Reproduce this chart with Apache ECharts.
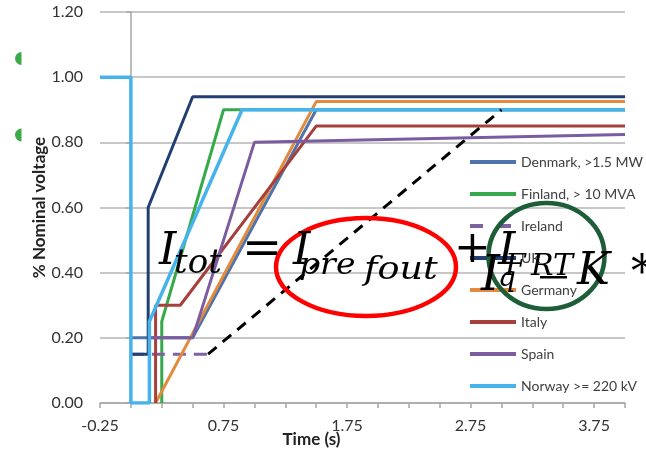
<!DOCTYPE html>
<html><head><meta charset="utf-8">
<script src="https://cdn.jsdelivr.net/npm/echarts@6/dist/echarts.min.js"></script>
<style>html,body{margin:0;padding:0;background:#fff}#c{width:646px;height:450px}</style>
</head><body><div id="c"></div>
<script>
// ---- data ----
const seriesNames = ['Denmark, >1.5 MW','Finland, > 10 MVA','Ireland','UK','Germany','Italy','Spain','Norway >= 220 kV'];
const denmarkT = [0, 0.5, 1.5, 4.0];
const denmarkV = [0.2, 0.2, 0.9, 0.9];
const finlandT = [0.25, 0.25, 0.75, 4.0];
const finlandV = [0, 0.25, 0.9, 0.9];
const irelandT = [0, 0.625];
const irelandV = [0.15, 0.15];
const irelandExtT = [0.625, 3.0];
const irelandExtV = [0.15, 0.9];
const ukT = [0, 0.14, 0.14, 0.5, 4.0];
const ukV = [0.15, 0.15, 0.6, 0.94, 0.94];
const germanyT = [0.2, 1.5, 4.0];
const germanyV = [0, 0.925, 0.925];
const italyT = [0.2, 0.2, 0.4, 1.5, 4.0];
const italyV = [0, 0.3, 0.3, 0.85, 0.85];
const spainT = [0.15, 0.5, 1.0, 4.0];
const spainV = [0.2, 0.2, 0.8, 0.824];
const norwayT = [-0.25, 0, 0, 0.15, 0.15, 0.9, 4.0];
const norwayV = [1.0, 1.0, 0, 0, 0.25, 0.9, 0.9];
const xTickLabels = ['-0.25', '0.75', '1.75', '2.75', '3.75'];
const yTickLabels = ['0.00', '0.20', '0.40', '0.60', '0.80', '1.00', '1.20'];

const zip = (t, v) => t.map((x, i) => [x, v[i]]);
const font = 'Lato, "Open Sans", sans-serif';
const colors = ['#4E74AE', '#36AA4A', '#7E62A2', '#223F72', '#E38A3D', '#A5403D', '#7B5CA0', '#46B3EC'];
function ln(name, t, v, color, opts) {
  return Object.assign({
    name: name, type: 'line', data: zip(t, v), symbol: 'none',
    lineStyle: { color: color, width: 3 }, itemStyle: { color: color },
    animation: false, silent: true
  }, opts || {});
}
const series = [
  ln(seriesNames[0], denmarkT, denmarkV, colors[0]),
  ln(seriesNames[1], finlandT, finlandV, colors[1]),
  ln(seriesNames[2], irelandT, irelandV, colors[2], { lineStyle: { color: colors[2], width: 3, type: [13, 8] } }),
  ln(seriesNames[3], ukT, ukV, colors[3]),
  ln(seriesNames[4], germanyT, germanyV, colors[4]),
  ln(seriesNames[5], italyT, italyV, colors[5]),
  ln(seriesNames[6], spainT, spainV, colors[6]),
  ln(seriesNames[7], norwayT, norwayV, colors[7], { lineStyle: { color: colors[7], width: 3.5 } }),
  ln('Ireland (ramp)', irelandExtT, irelandExtV, '#000000', { lineStyle: { color: '#000', width: 3, type: [11, 8] } })
];

const solidIcon = 'path://M0,0H46V4H0Z';
const dashIcon = 'path://M0,0H13V4H0Z M28,0H41V4H28Z M46,0H46.01V4H46Z';
const legendData = seriesNames.map((n, i) => ({ name: n, icon: i === 2 ? dashIcon : solidIcon }));

function tx(text, x, y, size, italic, sx) {
  return { type: 'text', z: 100, silent: true, x: x, y: y, scaleX: sx || 1, style: {
    text: text, x: 0, y: 0, fill: '#000',
    font: (italic === false ? '' : 'italic ') + size + 'px "DejaVu Serif", serif',
    textAlign: 'left', textVerticalAlign: 'middle' } };
}

const chart = echarts.init(document.getElementById('c'), null, { renderer: 'canvas' });
chart.setOption({
  animation: false,
  grid: { left: 100, right: 21, top: 12, bottom: 47, containLabel: false, outerBoundsMode: 'none' },
  legend: {
    data: legendData, orient: 'vertical', left: 470, top: 155, padding: 0,
    itemWidth: 46, itemHeight: 4, itemGap: 18,
    textStyle: { fontFamily: font, fontSize: 14, color: '#404040', lineHeight: 14 },
    selectedMode: false
  },
  xAxis: {
    type: 'value', min: -0.25, max: 4.0, interval: 0.25,
    name: 'Time (s)', nameLocation: 'middle', nameGap: 28, nameMoveOverlap: false,
    nameTextStyle: { fontFamily: font, fontSize: 17, fontWeight: 'bold', color: '#222', padding: [0, 102, 0, 0] },
    axisLine: { lineStyle: { color: '#A6A6A6', width: 1.5 } },
    axisTick: { show: true, length: 5, lineStyle: { color: '#A6A6A6', width: 1.5 } },
    axisLabel: { margin: 15, fontFamily: font, fontSize: 16, color: '#333',
      formatter: function (v, i) { return (i % 4 === 0) ? xTickLabels[i / 4] : ''; } },
    splitLine: { show: false }
  },
  yAxis: {
    type: 'value', min: 0, max: 1.2, interval: 0.2,
    name: '% Nominal voltage', nameLocation: 'middle', nameGap: 52, nameMoveOverlap: false,
    nameTextStyle: { fontFamily: font, fontSize: 17, fontWeight: 'bold', color: '#222' },
    axisLine: { show: true, lineStyle: { color: '#A6A6A6', width: 1.5 } },
    axisTick: { show: true, length: 5, lineStyle: { color: '#A6A6A6', width: 1.5 } },
    axisLabel: { margin: 17, fontFamily: font, fontSize: 16, color: '#333',
      formatter: function (v, i) { return yTickLabels[i]; } },
    splitLine: { show: true, lineStyle: { color: '#B4B4B4', width: 1.5 } }
  },
  series: series,
  graphic: [
    { type: 'sector', silent: true, shape: { cx: 21.5, cy: 58.5, r: 6.5, startAngle: Math.PI / 2, endAngle: Math.PI * 1.5 }, style: { fill: '#3BAA48' } },
    { type: 'sector', silent: true, shape: { cx: 21.5, cy: 135, r: 6.5, startAngle: Math.PI / 2, endAngle: Math.PI * 1.5 }, style: { fill: '#3BAA48' } },
    { type: 'ellipse', z: 100, silent: true, shape: { cx: 366, cy: 267, rx: 90, ry: 49 }, style: { fill: 'none', stroke: '#FF0000', lineWidth: 4.5 } },
    { type: 'ellipse', z: 100, silent: true, shape: { cx: 546.5, cy: 256, rx: 58, ry: 53 }, style: { fill: 'none', stroke: '#1D5E38', lineWidth: 4.5 } },
    tx('I', 159, 253, 44),
    tx('tot', 174, 264, 34),
    tx('=', 242, 252, 48, false),
    tx('I', 293, 253, 44),
    tx('pre', 299, 266, 30, true, 1.1),
    tx('fout', 364, 271, 31, true, 1.18),
    tx('+', 454, 251, 44, false),
    tx('I', 498, 253, 44),
    tx('I', 481, 278, 48),
    tx('q', 498, 279, 28),
    tx('F', 505, 267, 30),
    tx('RT', 531, 267, 30),
    { type: 'rect', z: 100, silent: true, shape: { x: 540, y: 276, width: 27, height: 2.5 }, style: { fill: '#000' } },
    tx('K', 577, 273, 44),
    tx('*', 631, 276, 44, false)
  ]
});
</script></body></html>
